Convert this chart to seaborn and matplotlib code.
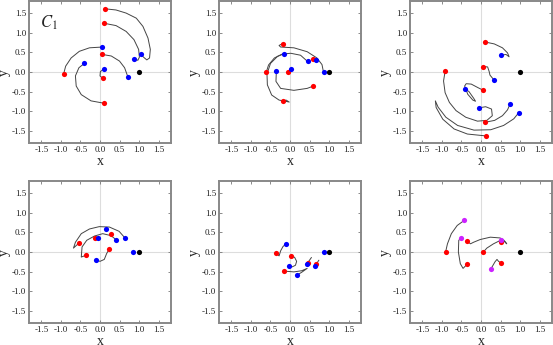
import numpy as np
import pandas as pd
import seaborn as sns
import matplotlib
matplotlib.use("Agg")
import matplotlib.pyplot as plt

# --- DATA ---
primary = (1.0, 0.0)
ticks = [-1.5, -1.0, -0.5, 0.0, 0.5, 1.0, 1.5]
panel_label = "$C_1$"

# panel 1
p1_red = [(0.13, 1.62), (0.10, 1.25), (0.06, 0.45), (-0.93, -0.04), (0.07, -0.16), (0.10, -0.80)]
p1_blue = [(1.04, 0.45), (0.87, 0.34), (0.06, 0.64), (-0.40, 0.22), (0.10, 0.08), (0.72, -0.14)]
p1_curves = [
    [(0.13, 1.62), (0.41, 1.59), (0.67, 1.51), (0.93, 1.38), (1.10, 1.17), (1.23, 0.87),
     (1.29, 0.58), (1.27, 0.36), (1.20, 0.31), (1.14, 0.36), (1.04, 0.45)],
    [(0.10, 1.25), (0.41, 1.19), (0.67, 1.04), (0.87, 0.83), (0.99, 0.58), (1.01, 0.38),
     (0.97, 0.30), (0.87, 0.34)],
    [(-0.93, -0.04), (-0.88, 0.15), (-0.74, 0.36), (-0.53, 0.53), (-0.27, 0.62), (0.06, 0.64)],
    [(0.06, 0.45), (0.29, 0.41), (0.50, 0.28), (0.63, 0.11), (0.72, -0.14)],
    [(-0.40, 0.22), (-0.54, 0.11), (-0.63, -0.10), (-0.61, -0.36), (-0.48, -0.58),
     (-0.23, -0.74), (0.10, -0.80)],
    [(0.10, 0.08), (0.01, 0.01), (0.00, -0.10), (0.07, -0.16)],
]

# panel 2
p2_red = [(-0.19, 0.73), (0.59, 0.34), (-0.61, -0.01), (-0.04, -0.01), (0.60, -0.36), (-0.19, -0.75)]
p2_blue = [(-0.15, 0.47), (0.66, 0.31), (0.45, 0.27), (-0.35, 0.02), (0.03, 0.08), (0.86, -0.01)]
p2_curves = [
    [(-0.19, 0.73), (-0.28, 0.68), (-0.24, 0.64), (0.10, 0.62), (0.44, 0.52), (0.69, 0.36),
     (0.82, 0.19), (0.86, -0.01)],
    [(0.45, 0.27), (0.27, 0.43), (0.02, 0.48), (-0.20, 0.46), (-0.40, 0.36), (-0.55, 0.18),
     (-0.61, -0.01)],
    [(-0.15, 0.47), (-0.32, 0.40), (-0.50, 0.22), (-0.59, -0.05), (-0.58, -0.33),
     (-0.47, -0.59), (-0.28, -0.72), (-0.02, -0.77), (-0.10, -0.72), (-0.19, -0.75)],
    [(-0.35, 0.02), (-0.36, -0.24), (-0.24, -0.42), (0.10, -0.47), (0.44, -0.42), (0.60, -0.36)],
    [(0.59, 0.34), (0.66, 0.31)],
    [(-0.04, -0.01), (0.03, 0.08)],
]

# panel 3
p3_red = [(0.10, 0.77), (0.06, 0.13), (-0.92, 0.02), (0.06, -0.47), (0.10, -1.29), (0.14, -1.64)]
p3_blue = [(0.51, 0.43), (0.33, -0.20), (-0.42, -0.43), (-0.06, -0.92), (0.75, -0.81), (0.97, -1.04)]
p3_curves = [
    [(0.10, 0.77), (0.34, 0.72), (0.55, 0.62), (0.68, 0.49), (0.72, 0.39), (0.64, 0.45), (0.51, 0.43)],
    [(0.07, 0.14), (0.17, 0.13), (0.21, 0.01), (0.23, -0.08), (0.33, -0.20)],
    [(0.06, -0.47), (-0.08, -0.40), (-0.25, -0.31), (-0.38, -0.30), (-0.42, -0.36),
     (-0.34, -0.57), (-0.21, -0.72), (-0.14, -0.75), (-0.19, -0.67), (-0.31, -0.50), (-0.42, -0.43)],
    [(-0.92, 0.02), (-0.96, -0.23), (-0.92, -0.53), (-0.81, -0.78), (-0.64, -0.99),
     (-0.39, -1.16), (-0.09, -1.26), (0.15, -1.24), (0.29, -1.12), (0.27, -0.95),
     (0.12, -0.89), (-0.06, -0.92)],
    [(0.75, -0.81), (0.68, -0.97), (0.55, -1.12), (0.35, -1.24), (0.10, -1.29)],
    [(0.97, -1.04), (0.84, -1.20), (0.58, -1.37), (0.25, -1.48), (-0.18, -1.49),
     (-0.60, -1.37), (-0.90, -1.16), (-1.10, -0.90), (-1.17, -0.74), (-1.15, -0.91),
     (-0.98, -1.21), (-0.69, -1.46), (-0.35, -1.59), (0.14, -1.64)],
]

# panel 4
p4_red = [(0.27, 0.47), (-0.14, 0.36), (-0.53, 0.24), (-0.35, -0.08), (0.24, 0.08)]
p4_blue = [(0.16, 0.59), (-0.04, 0.37), (0.42, 0.31), (0.64, 0.36), (-0.10, -0.20), (0.85, 0.0)]
p4_curves = [
    [(-0.53, 0.24), (-0.68, 0.10), (-0.63, 0.25), (-0.48, 0.47), (-0.27, 0.59), (-0.02, 0.65),
     (0.24, 0.64), (0.49, 0.53), (0.64, 0.36)],
    [(-0.35, -0.08), (-0.48, -0.13), (-0.46, 0.13), (-0.34, 0.30), (-0.14, 0.41), (0.07, 0.47),
     (0.28, 0.42), (0.42, 0.31)],
    [(-0.10, -0.20), (0.00, -0.24), (0.11, -0.19), (0.17, -0.04), (0.24, 0.08)],
]

# panel 5
p5_red = [(-0.35, -0.03), (0.03, -0.09), (-0.15, -0.49), (0.46, -0.27), (0.67, -0.31)]
p5_blue = [(-0.10, 0.21), (-0.03, -0.37), (0.18, -0.59), (0.43, -0.31), (0.64, -0.36), (0.86, 0.0)]
p5_curves = [
    [(-0.10, 0.21), (-0.18, 0.14), (-0.24, 0.03), (-0.28, -0.10), (-0.33, -0.05), (-0.35, -0.03)],
    [(0.03, -0.09), (0.12, -0.14), (0.17, -0.24), (0.14, -0.34), (0.06, -0.38), (-0.03, -0.37)],
    [(-0.15, -0.49), (0.10, -0.51), (0.30, -0.48), (0.44, -0.42), (0.30, -0.52), (0.18, -0.59)],
    [(0.43, -0.31), (0.55, -0.14)],
    [(0.64, -0.36), (0.74, -0.21)],
]

# panel 6
p6_red = [(-0.37, 0.29), (0.52, 0.26), (-0.91, -0.01), (0.05, -0.01), (-0.37, -0.31), (0.51, -0.28)]
p6_mag = [(-0.43, 0.81), (-0.51, 0.36), (0.50, 0.30), (0.25, -0.44)]
p6_curves = [
    [(-0.91, -0.01), (-0.86, 0.21), (-0.76, 0.47), (-0.61, 0.68), (-0.43, 0.81)],
    [(-0.51, 0.36), (-0.57, 0.30), (-0.58, 0.0), (-0.53, -0.30), (-0.46, -0.42),
     (-0.40, -0.36), (-0.37, -0.31)],
    [(-0.37, 0.29), (-0.27, 0.21), (-0.19, 0.25), (-0.02, 0.32), (0.24, 0.38), (0.49, 0.36),
     (0.59, 0.30), (0.66, 0.21), (0.60, 0.27), (0.52, 0.26)],
    [(0.05, -0.01), (0.15, 0.10), (0.32, 0.21), (0.50, 0.30)],
    [(0.25, -0.44), (0.36, -0.25), (0.41, -0.19), (0.45, -0.24), (0.51, -0.28)],
]

panels = [
    (p1_curves, [(p1_red, "red"), (p1_blue, "blue")]),
    (p2_curves, [(p2_red, "red"), (p2_blue, "blue")]),
    (p3_curves, [(p3_red, "red"), (p3_blue, "blue")]),
    (p4_curves, [(p4_red, "red"), (p4_blue, "blue")]),
    (p5_curves, [(p5_red, "red"), (p5_blue, "blue")]),
    (p6_curves, [(p6_red, "red"), (p6_mag, "#cc22ff")]),
]

sns.set_theme(style="ticks")
plt.rcParams["font.family"] = ["Liberation Serif", "DejaVu Serif"]
plt.rcParams["mathtext.fontset"] = "stix"
plt.rcParams["axes.unicode_minus"] = False

fig = plt.figure(figsize=(5.53, 3.45), dpi=100)
lefts = [29 / 553, 219 / 553, 410 / 553]
bottoms = [202 / 345, 22 / 345]
W, H = 142 / 553, 142 / 345

for i, (curves, dots) in enumerate(panels):
    ax = fig.add_axes([lefts[i % 3], bottoms[i // 3], W, H])
    ax.axhline(0, color="#dddddd", lw=0.8, zorder=0)
    ax.axvline(0, color="#dddddd", lw=0.8, zorder=0)

    rows = []
    for k, c in enumerate(curves):
        for x, y in c:
            rows.append({"curve": k, "x": x, "y": y})
    df = pd.DataFrame(rows)
    sns.lineplot(data=df, x="x", y="y", units="curve", estimator=None, sort=False,
                 color="#444444", lw=0.7, ax=ax)

    for pts, col in dots:
        d = pd.DataFrame(pts, columns=["x", "y"])
        sns.scatterplot(data=d, x="x", y="y", color=col, s=14, linewidth=0, ax=ax, zorder=3)
    sns.scatterplot(x=[primary[0]], y=[primary[1]], color="black", s=14, linewidth=0,
                    ax=ax, zorder=3)

    ax.set_xlim(-1.82, 1.82)
    ax.set_ylim(-1.82, 1.82)
    ax.set_xticks(ticks)
    ax.set_yticks(ticks)
    ax.tick_params(direction="in", length=2.5, width=0.6, labelsize=6.5, colors="#777777",
                   labelcolor="#222222", top=True, right=True, pad=2)
    for s in ax.spines.values():
        s.set_color("#888888")
        s.set_linewidth(1.4)
    ax.set_xlabel("x", fontsize=10, labelpad=1)
    ax.set_ylabel("y", fontsize=10, labelpad=1)
    if i == 0:
        ax.text(-1.55, 1.25, panel_label, fontsize=12, va="center", ha="left")

fig.savefig("out.png", dpi=100, facecolor="white")
